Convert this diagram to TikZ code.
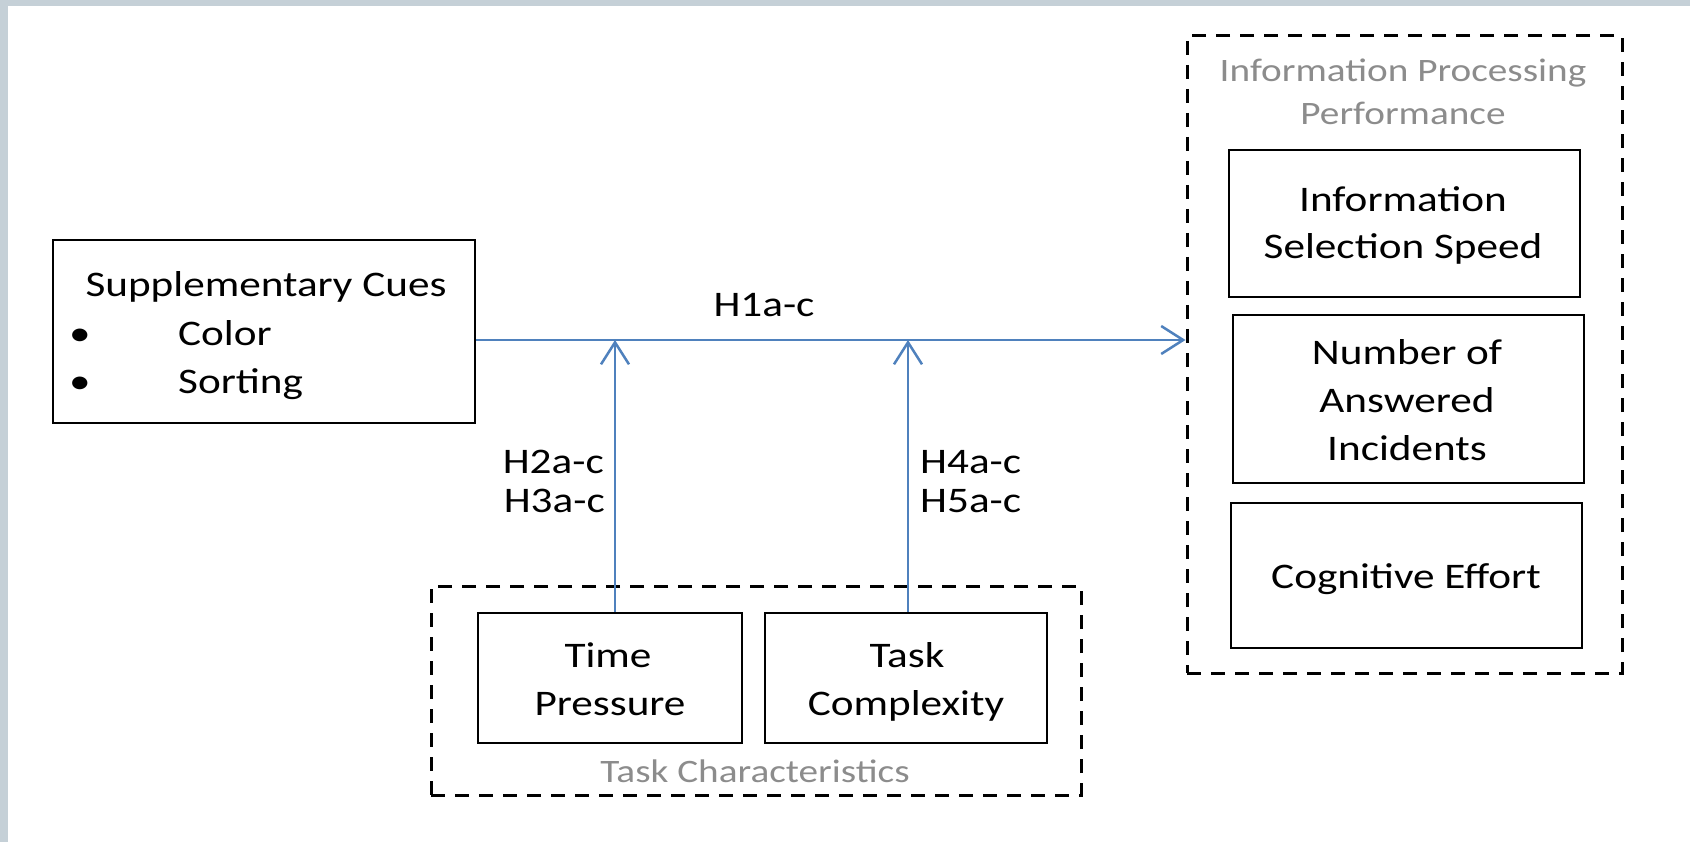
\documentclass[tikz,border=0pt]{standalone}
\usepackage{fontspec}
\setmainfont{Carlito}[FakeStretch=1.2]
\usetikzlibrary{arrows.meta}
\definecolor{framegrey}{HTML}{C5D0D7}
\definecolor{linkblue}{HTML}{4F81BD}
\definecolor{labelgrey}{HTML}{8C8C8C}
\begin{document}
\begin{tikzpicture}[x=1pt,y=-1pt,
  box/.style={draw=black, line width=2.8pt, inner sep=0pt},
  groupbox/.style={draw=black, line width=3pt, dash pattern=on 14pt off 10pt, inner sep=0pt},
  txt/.style={font=\fontsize{36pt}{48pt}\selectfont, inner sep=0pt, anchor=base, text=black},
  graytxt/.style={font=\fontsize{32.7pt}{40pt}\selectfont, inner sep=0pt, anchor=base, text=labelgrey},
  link/.style={draw=linkblue, line width=2.5pt, -{Straight Barb[length=22pt,width=28pt]}}
]
\fill[framegrey] (0,0) rectangle (1690,842);
\fill[white] (8,6) rectangle (1690,842);
\useasboundingbox (0,0) rectangle (1690,842);

% Supplementary cues
\node[box, minimum width=422pt, minimum height=183pt] (supp) at (264,331.5) {};
\node[txt] (suppT) at (266,297) {Supplementary Cues};
\node[txt] (bul1) at (80,345) {•};
\node[txt] (bul2) at (80,393) {•};
\node[txt, anchor=base west] (colorT) at (178,345) {Color};
\node[txt, anchor=base west] (sortT) at (178,393) {Sorting};

% Task characteristics
\node[groupbox, minimum width=650pt, minimum height=209pt] (tc) at (756,690.5) {};
\node[graytxt] (tcT) at (755,782) {Task Characteristics};
\node[box, minimum width=264pt, minimum height=130pt] (tp) at (610,678) {};
\node[txt] (tpT1) at (608,667) {Time};
\node[txt] (tpT2) at (610,715) {Pressure};
\node[box, minimum width=282pt, minimum height=130pt] (tcx) at (906,678) {};
\node[txt] (tcxT1) at (907,667) {Task};
\node[txt] (tcxT2) at (906,715) {Complexity};

% Information processing performance
\node[groupbox, minimum width=435pt, minimum height=637pt] (ipp) at (1404.5,354.5) {};
\node[graytxt] (ippT1) at (1403,82) {Information Processing};
\node[graytxt] (ippT2) at (1403,125) {Performance};
\node[box, minimum width=351pt, minimum height=147pt] (iss) at (1404.5,223.5) {};
\node[txt] (issT1) at (1403,212) {Information};
\node[txt] (issT2) at (1403,259) {Selection Speed};
\node[box, minimum width=351pt, minimum height=168pt] (nai) at (1408.5,399) {};
\node[txt] (naiT1) at (1407,364) {Number of};
\node[txt] (naiT2) at (1407,412) {Answered};
\node[txt] (naiT3) at (1407,460) {Incidents};
\node[box, minimum width=351pt, minimum height=145pt] (ce) at (1406.5,575.5) {};
\node[txt] (ceT) at (1406,588) {Cognitive Effort};

% connectors
\coordinate (h1) at (0,340);
\draw[link] (supp.east |- h1) -- (ipp.west |- h1);
\draw[link] ([xshift=5pt]tp.north) -- ([xshift=5pt]tp.north |- h1);
\draw[link] ([xshift=2pt]tcx.north) -- ([xshift=2pt]tcx.north |- h1);

% labels
\node[txt] (h1T) at (764,317) {H1a-c};
\node[txt, anchor=base east] (h2T) at (604,473) {H2a-c};
\node[txt, anchor=base east] (h3T) at (605,512) {H3a-c};
\node[txt, anchor=base west] (h4T) at (920,473) {H4a-c};
\node[txt, anchor=base west] (h5T) at (920,512) {H5a-c};
\end{tikzpicture}
\end{document}
